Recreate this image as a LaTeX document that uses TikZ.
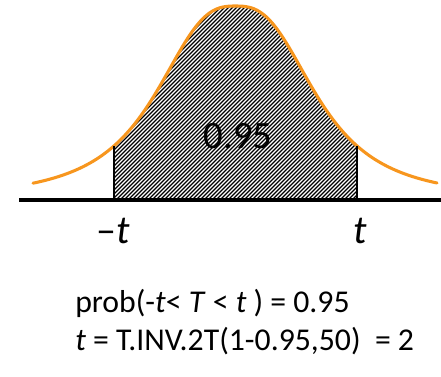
\documentclass[tikz,border=0pt]{standalone}
\usepackage{fontspec}
\setmainfont{Carlito}
\definecolor{curveorange}{RGB}{247,150,30}

\begin{document}
\begin{tikzpicture}[x=0.75pt, y=-0.75pt,
    declare function={dens(\x)=200-194/(1+((abs(\x-235.5)+0.001)/86)^2.75);},
    curve/.style={curveorange, line width=2.3pt, line cap=round, line join=round},
    axis/.style={black, line width=2.3pt},
    bound/.style={black, line width=2pt},
    hatch/.style={black, line width=0.85pt},
    tlabel/.style={font=\fontsize{30}{36}\selectfont, anchor=base, inner sep=0pt},
    formula/.style={font=\fontsize{23.8}{28}\selectfont, anchor=base west, inner sep=0pt}
]
\useasboundingbox (0,0) rectangle (441,376);

% shaded area between -t and t
\coordinate (lo) at (114,200);
\coordinate (hi) at (357,200);
\begin{scope}
  \clip (lo) -- plot[domain=114:357, samples=80] (\x,{dens(\x)}) -- (hi) -- cycle;
  \foreach \i in {-100,-96,...,360}
    \draw[hatch] (\i,204) -- ++(210,-210);
\end{scope}

% density curve
\draw[curve] plot[domain=33:437, samples=120, smooth] (\x,{dens(\x)});

% axis and bounds
\draw[axis] (19,200) -- (441,200);
\draw[bound] (lo) -- (114,{dens(114)});
\draw[bound] (hi) -- (357,{dens(357)});

\node[tlabel, font=\fontsize{29}{34}\selectfont] (area) at (238,148) {0.95};
\node[tlabel] (mt) at (113,243) {\textendash\textit{t}};
\node[tlabel] (pt) at (360,243) {\textit{t}};

\node[formula] (prob) at (75,312) {prob(-\textit{t}< \textit{T} < \textit{t} ) = 0.95};
\node[formula] (tinv) at (75,350) {\textit{t} = T.INV.2T(1-0.95,50)~ = 2};
\end{tikzpicture}
\end{document}
